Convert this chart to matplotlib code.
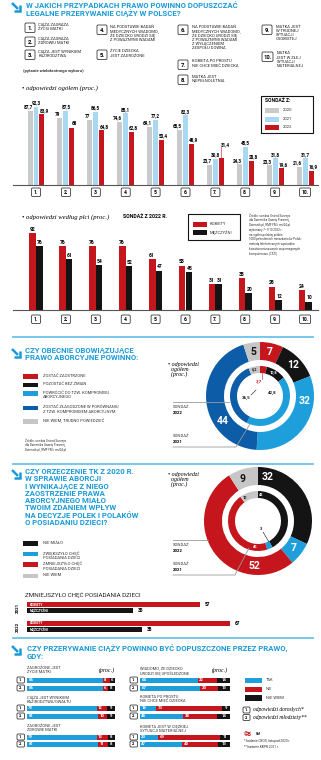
import numpy as np
import matplotlib.pyplot as plt
from matplotlib.patches import FancyBboxPatch, Rectangle

W, H = 321, 760
BLUE = '#1a9ad7'
SEP = '#6cc2ea'
GRAY = '#c8cacb'
LBLUE = '#a9d9f2'
RED = '#c5161d'
BLACK = '#141414'
CYAN = '#1e9fdc'
DBLUE = '#0c5ca8'
LGRAY = '#c6c6c6'

plt.rcParams['font.family'] = ['Roboto', 'DejaVu Sans']
SERIF = ['Liberation Serif', 'DejaVu Serif']

# ---- data: chart 1 (odpowiedzi ogółem) ----
cases = ['1.', '2.', '3.', '4.', '5.', '6.', '7.', '8.', '9.', '10.']
case_texts = ['CIĄŻA ZAGRAŻA\nŻYCIU MATKI', 'CIĄŻA ZAGRAŻA\nZDROWIU MATKI',
              'CIĄŻA JEST WYNIKIEM\nKAZIRODZTWA',
              'NA PODSTAWIE BADAŃ\nMEDYCZNYCH WIADOMO,\nŻE DZIECKO URODZI SIĘ\nZ POWAŻNYMI WADAMI',
              'ŻYCIE DZIECKA\nJEST ZAGROŻONE',
              'NA PODSTAWIE BADAŃ\nMEDYCZNYCH WIADOMO,\nŻE DZIECKO URODZI SIĘ\nZ POWAŻNYMI WADAMI\nZ WYŁĄCZENIEM\nZESPOŁU DOWNA',
              'KOBIETA PO PROSTU\nNIE CHCE MIEĆ DZIECKA', 'MATKA JEST\nNIEPEŁNOLETNIA',
              'MATKA JEST\nW TRUDNEJ\nSYTUACJI\nOSOBISTEJ', 'MATKA\nJEST W ZŁEJ\nSYTUACJI\nMATERIALNEJ']
years = ['2020', '2021', '2022']
v2020 = [87.7, 79, 77, 74.6, 69.1, 65.5, 23.7, 24.3, 23.3, 21.6]
v2021 = [92.3, 87.5, 86.5, 85.1, 77.2, 82.3, 30.8, 45.5, 31.8, 31.7]
v2022 = [83.9, 68, 64.8, 62.8, 53.4, 48.9, 31.4, 28.8, 19.6, 16.9]

# ---- data: chart 2 (według płci, 2022) ----
kobiety = [92, 76, 76, 76, 61, 53, 31, 38, 28, 24]
mezczyzni = [76, 61, 54, 52, 47, 45, 31, 20, 12, 10]

# ---- data: donut 1 (obecne prawo) ----
law_labels = ['ZOSTAĆ ZAOSTRZONE', 'POZOSTAĆ BEZ ZMIAN', 'POWRÓCIĆ DO TZW. KOMPROMISU\nABORCYJNEGO',
              'ZOSTAĆ ZŁAGODZONE W PORÓWNANIU\nZ TZW. KOMPROMISEM ABORCYJNYM', 'NIE WIEM, TRUDNO POWIEDZIEĆ']
law_2021 = [7, 12, 32, 44, 5]
law_2022 = [3.7, 10.8, 42.8, 36.5, 6.2]

# ---- data: donut 2 (wpływ orzeczenia TK) ----
tk_labels = ['NIE MIAŁO', 'ZWIĘKSZYŁO CHĘĆ\nPOSIADANIA DZIECI', 'ZMNIEJSZYŁO CHĘĆ\nPOSIADANIA DZIECI', 'NIE WIEM']
tk_2021 = [32, 7, 52, 9]
tk_2022 = [42, 3, 45, 10]

# ---- data: zmniejszyło chęć posiadania dzieci ----
less_years = ['2021', '2022']
less_k = [57, 67]
less_m = [35, 38]

# ---- data: stacked bars (CBOS / KBPN) ----
cond_texts = ['ZAGROŻONE JEST\nŻYCIE MATKI', 'CIĄŻA JEST WYNIKIEM\nKAZIRODZTWA/GWAŁTU',
              'ZAGROŻONE JEST\nZDROWIE MATKI', 'WIADOMO, ŻE DZIECKO\nURODZI SIĘ UPOŚLEDZONE',
              'KOBIETA PO PROSTU\nNIE CHCE MIEĆ DZIECKA', 'KOBIETA JEST W CIĘŻKIEJ\nSYTUACJI MATERIALNEJ']
tak_1 = [86, 79, 79, 64, 18, 20]
nie_1 = [8, 12, 13, 22, 73, 69]
nw_1 = [6, 9, 8, 14, 9, 11]
tak_2 = [86, 81, 81, 67, 48, 47]
nie_2 = [6, 10, 11, 20, 38, 40]
nw_2 = [8, 9, 8, 13, 14, 13]

fig = plt.figure(figsize=(W / 100, H / 100), dpi=100)


def px_axes(x0, y0, x1, y1):
    ax = fig.add_axes([x0 / W, 1 - y1 / H, (x1 - x0) / W, (y1 - y0) / H])
    return ax


def fmt(v):
    return ('%g' % v).replace('.', ',')


# group index -> pixel: 36 + 29.9 * i
X0, DX = 36, 29.9
x = np.arange(len(cases))

# ---------- chart 1 ----------
ax1 = px_axes(13, 98, 318, 185)
ax1.bar(x - 0.2, v2020, 0.167, color=GRAY)
ax1.bar(x, v2021, 0.167, color=LBLUE)
ax1.bar(x + 0.2, v2022, 0.167, color=RED)
for i in x:
    lift = 12 if i == 6 else 0
    ax1.text(i - 0.27, v2020[i] + 1.5, fmt(v2020[i]), ha='center', va='bottom', fontsize=3.3, weight='bold')
    ax1.text(i, v2021[i] + 1.5, fmt(v2021[i]), ha='center', va='bottom', fontsize=3.3, weight='bold')
    ax1.text(i + 0.27 + (0.05 if lift else 0), v2022[i] + 1.5 + lift, fmt(v2022[i]),
             ha='center', va='bottom', fontsize=3.3, weight='bold')
    if lift:
        ax1.plot([i + 0.2, i + 0.2], [v2022[i], v2022[i] + lift + 1], color=RED, lw=0.4)
ax1.set_xlim((13 - X0) / DX, (318 - X0) / DX)
ax1.set_ylim(0, 103)
for s in ['top', 'right', 'left']:
    ax1.spines[s].set_visible(False)
ax1.spines['bottom'].set_color('#555555')
ax1.spines['bottom'].set_linewidth(0.8)
ax1.set_xticks([])
ax1.set_yticks([])
ax1.patch.set_alpha(0)

# ---------- chart 2 ----------
ax2 = px_axes(13, 224, 318, 310)
ax2.bar(x - 0.11, kobiety, 0.22, color=RED)
ax2.bar(x + 0.11, mezczyzni, 0.22, color=BLACK)
for i in x:
    ax2.text(i - 0.12, kobiety[i] + 1.5, str(kobiety[i]), ha='center', va='bottom', fontsize=3.6, weight='bold')
    ax2.text(i + 0.14, mezczyzni[i] + 1.5, str(mezczyzni[i]), ha='center', va='bottom', fontsize=3.6, weight='bold')
ax2.set_xlim((13 - X0) / DX, (318 - X0) / DX)
ax2.set_ylim(0, 102.7)
for s in ['top', 'right', 'left']:
    ax2.spines[s].set_visible(False)
ax2.spines['bottom'].set_color('#555555')
ax2.spines['bottom'].set_linewidth(0.8)
ax2.set_xticks([])
ax2.set_yticks([])
ax2.patch.set_alpha(0)


# ---------- donuts ----------
def donut(cx, cy, outer, inner, colors):
    ax = px_axes(cx - 56, cy - 56, cx + 56, cy + 56)
    ax.pie(outer, radius=54, startangle=90, counterclock=False, colors=colors,
           wedgeprops=dict(width=18, edgecolor='none'))
    ax.pie(inner, radius=30, startangle=90, counterclock=False, colors=colors,
           wedgeprops=dict(width=7, edgecolor='none'))
    ax.set_xlim(-56, 56)
    ax.set_ylim(-56, 56)
    ax.axis('off')
    return ax


def ring_text(ax, ang, r, s, **kw):
    a = np.deg2rad(ang)
    ax.text(r * np.sin(a), r * np.cos(a), s, ha='center', va='center', **kw)


law_colors = [RED, BLACK, CYAN, DBLUE, LGRAY]
d1 = donut(260, 396, law_2021, law_2022, law_colors)
out_ang1 = [12, 47, 96, 236, 351]
for v, a, c in zip(law_2021, out_ang1, ['white', 'white', 'white', 'white', BLACK]):
    ring_text(d1, a, 45, fmt(v), fontsize=7.5, weight='bold', color=c)
ring_text(d1, 349, 26.5, fmt(law_2022[4]), fontsize=2.8, weight='bold', color=BLACK)
ring_text(d1, 30, 26.5, fmt(law_2022[1]), fontsize=2.8, weight='bold', color='white')
d1.text(-1, 14, fmt(law_2022[0]), ha='center', va='center', fontsize=3.2, weight='bold', color=RED)
d1.plot([2, 2], [17, 23], color=RED, lw=0.4)
d1.text(12, 3, fmt(law_2022[2]), ha='center', va='center', fontsize=3.2, weight='bold', color=BLACK)
d1.text(-14, -2, fmt(law_2022[3]), ha='center', va='center', fontsize=3.2, weight='bold', color=BLACK)
d1.plot([-9, -4], [1, 6], color=BLACK, lw=0.4)

tk_colors = [BLACK, CYAN, RED, LGRAY]
d2 = donut(258, 521, tk_2021, tk_2022, tk_colors)
out_ang2 = [12, 127, 184, 340]
for v, a, c in zip(tk_2021, out_ang2, ['white', 'white', 'white', BLACK]):
    ring_text(d2, a, 45, str(v), fontsize=7.5, weight='bold', color=c)
ring_text(d2, 8, 26.5, str(tk_2022[0]), fontsize=2.8, weight='bold', color='white')
ring_text(d2, 330, 26.5, str(tk_2022[3]), fontsize=2.8, weight='bold', color=BLACK)
ring_text(d2, 185, 26.5, str(tk_2022[2]), fontsize=2.8, weight='bold', color='white')
d2.text(3, -8, str(tk_2022[1]), ha='center', va='center', fontsize=3, weight='bold', color=BLACK)
d2.plot([5, 11], [-11, -21], color=BLACK, lw=0.4)

# ---------- zmniejszyło chęć posiadania dzieci ----------
ax4 = px_axes(27, 598, 321, 636)
rows_k = [604.5, 623.5]
rows_m = [610.5, 629.5]
ax4.barh(rows_k, less_k, height=5.5, color=RED)
ax4.barh(rows_m, less_m, height=5.5, color=BLACK)
for yk, ym, k, m in zip(rows_k, rows_m, less_k, less_m):
    ax4.text(1, yk, 'KOBIETY', ha='left', va='center', fontsize=2.4, weight='bold', color='white')
    ax4.text(1, ym, 'MĘŻCZYŹNI', ha='left', va='center', fontsize=2.4, weight='bold', color='white')
    ax4.text(k + 1.5, yk, str(k), ha='left', va='center', fontsize=3.4, weight='bold')
    ax4.text(m + 1.5, ym, str(m), ha='left', va='center', fontsize=3.4, weight='bold')
ax4.set_xlim(0, (321 - 27) / 3.03)
ax4.set_ylim(636, 598)
ax4.axis('off')

# ---------- stacked bars ----------
rows_1 = [680, 708, 737]
rows_2 = [688, 716, 744]
for col, (xa, xb) in enumerate([(27, 115), (140, 230)]):
    ax = px_axes(xa, 660, xb, 752)
    sl = slice(col * 3, col * 3 + 3)
    for rows, t, n, w in [(rows_1, tak_1[sl], nie_1[sl], nw_1[sl]), (rows_2, tak_2[sl], nie_2[sl], nw_2[sl])]:
        t, n, w = np.array(t), np.array(n), np.array(w)
        ax.barh(rows, t, height=5, color=CYAN)
        ax.barh(rows, n, left=t, height=5, color=RED)
        ax.barh(rows, w, left=t + n, height=5, color=BLACK)
        for r, a, b, c in zip(rows, t, n, w):
            ax.text(1.5, r, str(a), ha='left', va='center', fontsize=3.1, weight='bold', color='white')
            ax.text(a + 1.5, r, str(b), ha='left', va='center', fontsize=3.1, weight='bold', color='white')
            ax.text(a + b + c / 2, r, str(c), ha='center', va='center', fontsize=3.1, weight='bold', color='white')
    ax.set_xlim(0, 100)
    ax.set_ylim(752, 660)
    ax.axis('off')

# ---------- overlay: text, boxes, icons ----------
ov = fig.add_axes([0, 0, 1, 1])
ov.set_xlim(0, W)
ov.set_ylim(H, 0)
ov.axis('off')


def numbox(x0, y0, s, w=9, h=8.5, fs=3.6):
    ov.add_patch(FancyBboxPatch((x0, y0), w, h, boxstyle='round,pad=0,rounding_size=1.2',
                                fc='white', ec=BLACK, lw=0.5))
    ov.text(x0 + w / 2, y0 + h / 2 + 0.3, s, ha='center', va='center', fontsize=fs, weight='bold')


def arrow(x0, y0):
    # small down-right arrow icon
    ov.plot([x0, x0 + 6], [y0, y0 + 6], color=BLUE, lw=1.8, solid_capstyle='butt')
    ov.plot([x0 + 7.5, x0 + 7.5, x0 + 1.5], [y0 + 1.5, y0 + 7.5, y0 + 7.5], color=BLUE, lw=1.8,
            solid_joinstyle='miter', solid_capstyle='butt')


def title(x0, y0, s):
    ov.text(x0, y0, s, ha='left', va='top', fontsize=5.6, weight='bold', color=BLUE, linespacing=1.05)


# section 1
arrow(12, 3)
title(26, 2, 'W JAKICH PRZYPADKACH PRAWO POWINNO DOPUSZCZAĆ\nLEGALNE PRZERYWANIE CIĄŻY W POLSCE?')
box_xy = [(25, 23), (25, 37), (25, 50), (97, 25), (97, 50), (178, 25), (178, 60), (178, 75), (262, 25), (262, 52)]
for (bx, by), c, t in zip(box_xy, cases, case_texts):
    w = 11 if len(c) > 2 else 10
    numbox(bx, by, c, w=w, h=9.5, fs=4.2)
    ov.text(bx + w + 3.5, by - 0.5, t, ha='left', va='top', fontsize=3.0, linespacing=1.05, color='#222222')
ov.text(23, 71, '(pytanie wielokrotnego wyboru)', ha='left', va='center', fontsize=3.1, weight='bold', color='#333333')
ov.text(22, 88, '• odpowiedzi ogółem (proc.)', ha='left', va='center', fontsize=4.8, style='italic', family=SERIF)

# legend SONDAŻ Z:
ov.add_patch(Rectangle((261, 96), 52, 37, fc='white', ec=BLACK, lw=0.8))
ov.text(265, 101, 'SONDAŻ Z:', ha='left', va='center', fontsize=3.6, weight='bold')
for yy, c, lab in zip([108, 117, 125], [GRAY, LBLUE, RED], years):
    ov.add_patch(Rectangle((265, yy), 14, 4.5, fc=c, ec='none'))
    ov.text(283, yy + 2.3, lab, ha='left', va='center', fontsize=3.0, color='#333333')

for i, c in enumerate(cases):
    w = 11 if len(c) > 2 else 9
    numbox(X0 + DX * i - w / 2, 188, c, w=w)
    numbox(X0 + DX * i - w / 2, 315, c, w=w)

# chart 2 header, legend, source
ov.text(22, 217, '• odpowiedzi według płci (proc.)', ha='left', va='center', fontsize=4.8, style='italic', family=SERIF)
ov.text(123, 217, 'SONDAŻ Z 2022 R.', ha='left', va='center', fontsize=3.7, weight='bold')
ov.add_patch(Rectangle((188, 214), 52, 26, fc='white', ec=BLACK, lw=0.8))
ov.add_patch(Rectangle((193, 221.5), 14, 5, fc=RED, ec='none'))
ov.add_patch(Rectangle((193, 230), 14, 5, fc=BLACK, ec='none'))
ov.text(210, 224, 'KOBIETY', ha='left', va='center', fontsize=3.0, color='#333333')
ov.text(210, 232.5, 'MĘŻCZYŹNI', ha='left', va='center', fontsize=3.0, color='#333333')
ov.text(249, 213, 'Źródło: sondaż United Surveys\ndla Dziennika Gazety Prawnej,\nDziennik.pl, RMF FM i rmf24.pl\n'
        'wykonany 7–9.10.2022 r.\nna ogólnopolskiej próbie\n1000 pełnoletnich mieszkańców Polski\n'
        'metodą telefonicznych wywiadów\nkwestionariuszowych wspomaganych\nkomputerowo (CATI)',
        ha='left', va='top', fontsize=2.2, linespacing=1.25, color='#333333')

# separators
for yy in [337, 464, 638]:
    ov.plot([13, 313], [yy, yy], color=SEP, lw=1.3)

# section 2
arrow(12, 349)
title(25, 347, 'CZY OBECNIE OBOWIĄZUJĄCE\nPRAWO ABORCYJNE POWINNO:')
for yy, c, t in zip([374, 382.5, 391, 405.5, 419], law_colors, law_labels):
    ov.add_patch(Rectangle((23, yy), 15, 4.5, fc=c, ec='none'))
    ov.text(43, yy - 0.3, t, ha='left', va='top', fontsize=3.0, linespacing=1.15, color='#333333')
ov.text(25, 438, 'Źródło: sondaż United Surveys\ndla Dziennika Gazety Prawnej,\nDziennik.pl, RMF FM i rmf24.pl',
        ha='left', va='top', fontsize=2.2, linespacing=1.25, color='#333333')
ov.text(168, 362, '• odpowiedzi\n  ogółem\n  (proc.)', ha='left', va='top', fontsize=4.3, style='italic',
        family=SERIF, linespacing=0.95)
ov.plot([173, 229], [402, 402], color='#999999', lw=0.6)
ov.text(173, 405, 'SONDAŻ', ha='left', va='top', fontsize=3.1, color='#333333')
ov.text(173, 411, '2022', ha='left', va='top', fontsize=3.1, weight='bold')
ov.plot([173, 236, 250], [447, 447, 424], color='#999999', lw=0.6)
ov.text(173, 434, 'SONDAŻ', ha='left', va='top', fontsize=3.1, color='#333333')
ov.text(173, 440, '2021', ha='left', va='top', fontsize=3.1, weight='bold')

# section 3
arrow(12, 470)
title(25, 468, 'CZY ORZECZENIE TK Z 2020 R.\nW SPRAWIE ABORCJI\nI WYNIKAJĄCE Z NIEGO\nZAOSTRZENIE PRAWA\n'
      'ABORCYJNEGO MIAŁO\nTWOIM ZDANIEM WPŁYW\nNA DECYZJE POLEK I POLAKÓW\nO POSIADANIU DZIECI?')
for yy, c, t in zip([541, 551.5, 562, 573.5], tk_colors, tk_labels):
    ov.add_patch(Rectangle((23, yy), 15, 4.5, fc=c, ec='none'))
    ov.text(43, yy - 0.3, t, ha='left', va='top', fontsize=3.0, linespacing=1.15, color='#333333')
ov.text(168, 472, '• odpowiedzi\n  ogółem\n  (proc.)', ha='left', va='top', fontsize=4.3, style='italic',
        family=SERIF, linespacing=0.95)
ov.plot([173, 208], [540, 540], color='#999999', lw=0.6)
ov.text(173, 543, 'SONDAŻ', ha='left', va='top', fontsize=3.1, color='#333333')
ov.text(173, 549, '2022', ha='left', va='top', fontsize=3.1, weight='bold')
ov.plot([173, 235, 249], [575, 575, 548], color='#999999', lw=0.6)
ov.text(173, 562, 'SONDAŻ', ha='left', va='top', fontsize=3.1, color='#333333')
ov.text(173, 568, '2021', ha='left', va='top', fontsize=3.1, weight='bold')

# section 4
ov.text(25, 595, 'ZMNIEJSZYŁO CHĘĆ POSIADANIA DZIECI', ha='left', va='center', fontsize=4.5, color='#222222')
for yy, lab in zip([607.5, 626.5], less_years):
    ov.text(18, yy, lab, ha='center', va='center', fontsize=3.2, weight='bold', rotation=90)

# section 5
arrow(12, 646)
title(27, 645, 'CZY PRZERYWANIE CIĄŻY POWINNO BYĆ DOPUSZCZONE PRZEZ PRAWO,\nGDY:')
cond_y = [666, 695, 724]
for col, xa in enumerate([27, 140]):
    for j in range(3):
        ov.text(xa, cond_y[j], cond_texts[col * 3 + j], ha='left', va='top', fontsize=2.9,
                linespacing=1.1, color='#333333')
        numbox(xa - 10, rows_1[j] - 3, '1.', w=7.5, h=6, fs=2.8)
        numbox(xa - 10, rows_2[j] - 3, '2.', w=7.5, h=6, fs=2.8)
    ov.text(xa + 88, 670, '(proc.)', ha='right', va='center', fontsize=4.2, style='italic', family=SERIF)

for yy, c, lab in zip([677.5, 686.5, 695], [CYAN, RED, BLACK], ['TAK', 'NIE', 'NIE WIEM']):
    ov.add_patch(Rectangle((245, yy), 17, 5.5, fc=c, ec='none'))
    ov.text(266, yy + 2.8, lab, ha='left', va='center', fontsize=2.9, color='#333333')
numbox(243, 707, '1.', w=7, h=6, fs=2.8)
numbox(243, 714.5, '2.', w=7, h=6, fs=2.8)
ov.text(253, 710, 'odpowiedzi dorosłych*', ha='left', va='center', fontsize=4.0, style='italic', family=SERIF)
ov.text(253, 717.5, 'odpowiedzi młodzieży**', ha='left', va='center', fontsize=4.0, style='italic', family=SERIF)
ov.text(244, 734, '©B', ha='left', va='center', fontsize=4.0, weight='bold', color=RED)
ov.text(256, 734, 'RM', ha='left', va='center', fontsize=2.4, weight='bold', color='#333333')
ov.text(244, 741, '* badanie CBOS, listopad 2020 r.', ha='left', va='center', fontsize=2.3, color='#333333')
ov.text(244, 747, '** badanie KBPN 2021 r.', ha='left', va='center', fontsize=2.3, color='#333333')

fig.savefig('out.png', dpi=100)
